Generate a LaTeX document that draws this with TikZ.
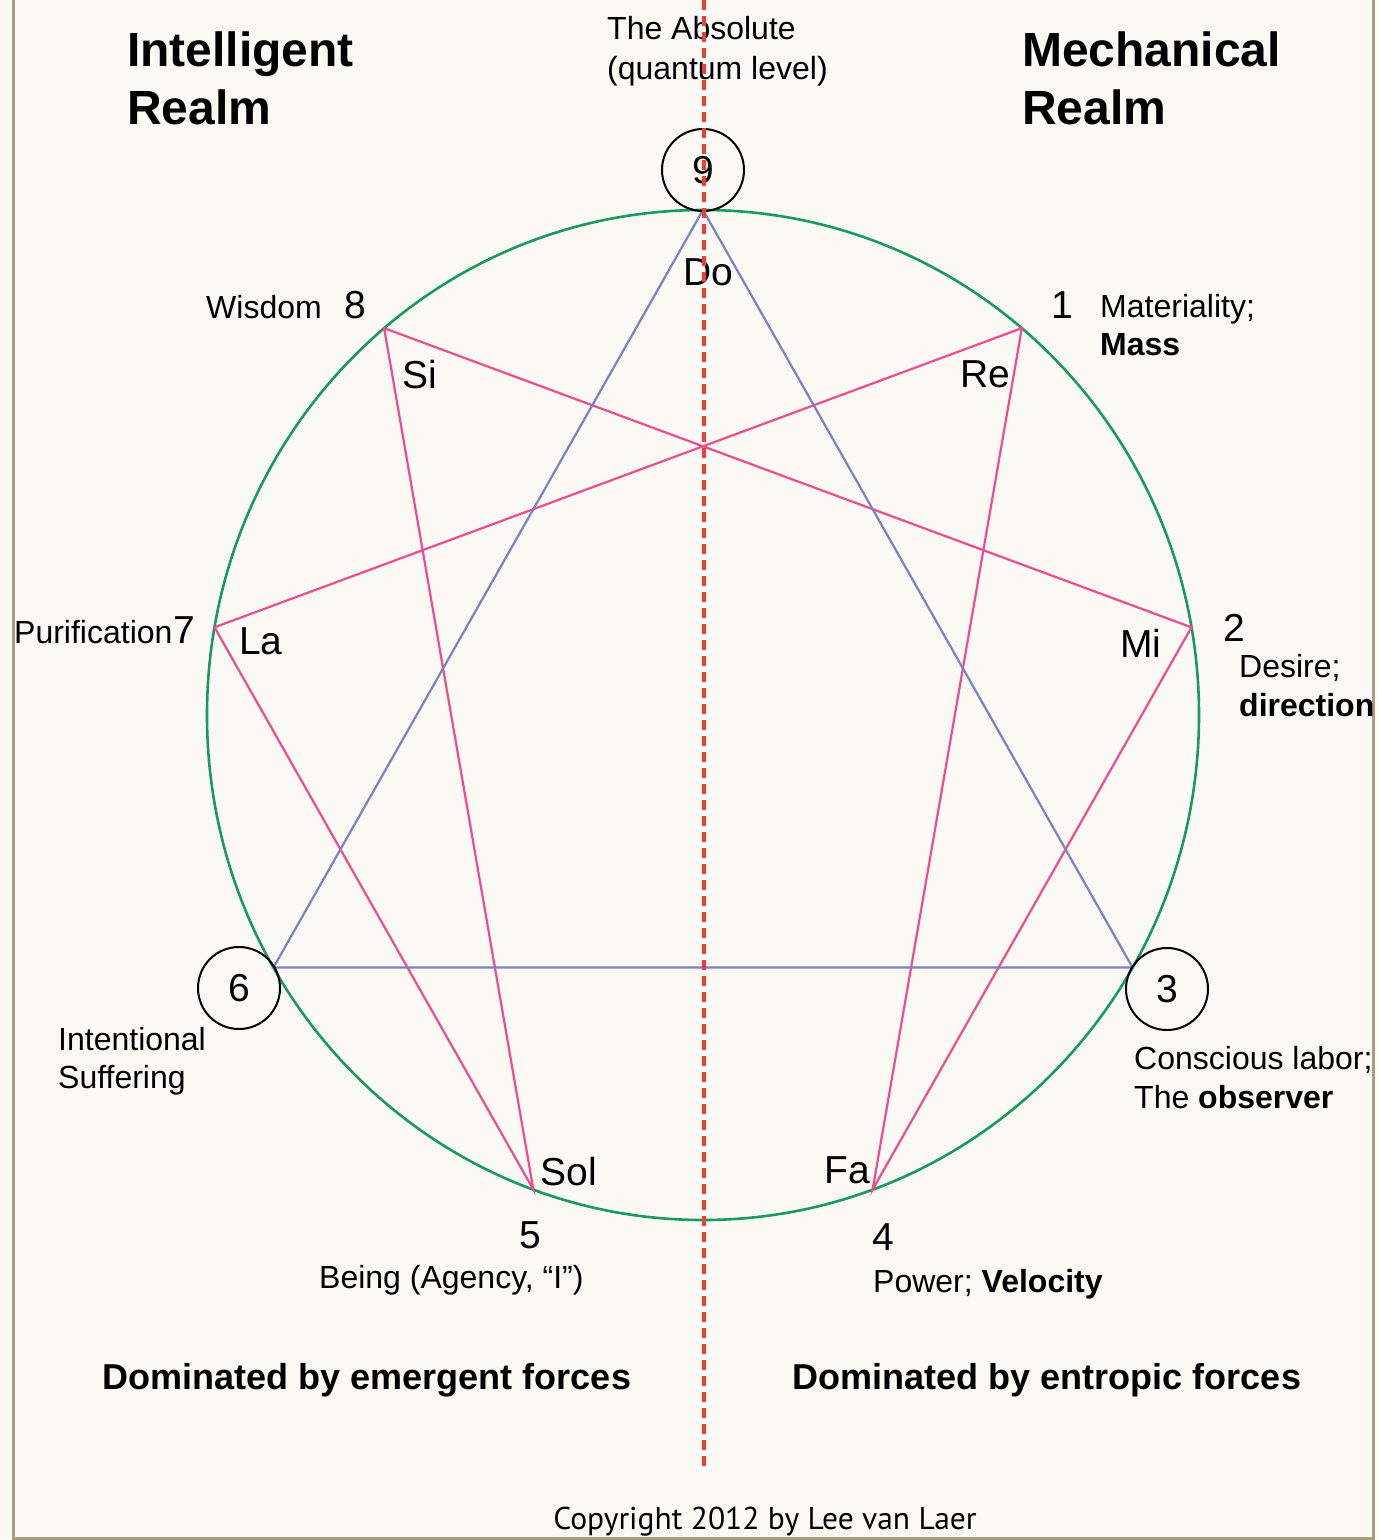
\documentclass[tikz,border=0pt]{standalone}
\usepackage{fontspec}
\setmainfont{Liberation Sans}
\newfontfamily\copyfont{PT Sans}
\definecolor{bgcream}{HTML}{FBF9F4}
\definecolor{ringgreen}{HTML}{1A9A5E}
\definecolor{triblue}{HTML}{7E80C6}
\definecolor{hexpink}{HTML}{EE4C8C}
\definecolor{axisred}{HTML}{EE3B3B}
\definecolor{framebrown}{HTML}{A89E86}
\begin{document}
\begin{tikzpicture}[x=1pt,y=-1pt,
  lbl/.style={inner sep=0pt,font=\fontsize{32}{38}\selectfont},
  lblw/.style={lbl,anchor=base west},
  note/.style={inner sep=0pt,font=\fontsize{39}{46}\selectfont,anchor=center},
  realm/.style={inner sep=0pt,anchor=base west,font=\fontsize{48}{58}\selectfont\bfseries},
  dom/.style={inner sep=0pt,anchor=center,font=\fontsize{36}{42}\selectfont\bfseries},
  numcirc/.style={circle,draw=black,line width=2pt,minimum size=82pt,inner sep=0pt,font=\fontsize{39}{46}\selectfont},
  ring/.style={draw=ringgreen,line width=2.6pt},
  triline/.style={draw=triblue,line width=2.2pt},
  hexline/.style={draw=hexpink,line width=2.2pt},
  axis/.style={draw=axisred,line width=4pt,dash pattern=on 10pt off 6pt}]
\fill[bgcream] (0,0) rectangle (1377,1540);
\useasboundingbox (0,0) rectangle (1377,1540);
% frame
\draw[framebrown,line width=3pt] (13,0) -- (13,1538) -- (1373,1538) -- (1373,0);
% points on enneagram circle
\coordinate (c) at (703,715);
\foreach \i in {0,...,8} {
  \coordinate (p\i) at ({703+496*sin(40*\i)},{715-505*cos(40*\i)});
}
% ring
\draw[ring] (c) ellipse [x radius=496, y radius=505];
% hexad
\draw[hexline] (p1) -- (p4) -- (p2) -- (p8) -- (p5) -- (p7) -- cycle;
% triangle
\draw[triline] (p0) -- (p3) -- (p6) -- cycle;
% circled numbers
\node[numcirc] (n9) at (703,170) {9};
\node[numcirc] (n3) at (1167,989) {3};
\node[numcirc] (n6) at (239,988) {6};
% realm titles
\node[realm] (ir1) at (127,66) {Intelligent};
\node[realm] (ir2) at (127,124) {Realm};
\node[realm] (mr1) at (1022,66) {Mechanical};
\node[realm] (mr2) at (1022,124) {Realm};
% absolute
\node[lblw] (ab1) at (607,39) {The Absolute};
\node[lblw] (ab2) at (607,79) {(quantum level)};
% solfege
\node[note] (do) at (708,272) {Do};
\node[note] (re) at (985,374) {Re};
\node[note] (mi) at (1141,643) {Mi};
\node[note] (fa) at (847,1170) {Fa};
\node[note] (sol) at (569,1172) {Sol};
\node[note] (la) at (261,641) {La};
\node[note] (si) at (420,375) {Si};
% numbers
\node[note] (n1) at (1062,305) {1};
\node[note] (n2) at (1234,628) {2};
\node[note] (n4) at (883,1237) {4};
\node[note] (n5) at (530,1235) {5};
\node[note] (n7) at (184,630) {7};
\node[note] (n8) at (355,305) {8};
% descriptions
\node[lblw] (d1a) at (1100,317) {Materiality;};
\node[lblw] (d1b) at (1100,355) {\bfseries Mass};
\node[lblw] (d2a) at (1239,677) {Desire;};
\node[lblw] (d2b) at (1239,716) {\bfseries direction};
\node[lblw] (d3a) at (1134,1069) {Conscious labor;};
\node[lblw] (d3b) at (1134,1108) {The \textbf{observer}};
\node[lblw] (d4) at (873,1292) {Power; \textbf{Velocity}};
\node[lblw] (d5) at (319,1288) {Being (Agency, “I”)};
\node[lblw] (d6a) at (58,1050) {Intentional};
\node[lblw] (d6b) at (58,1088) {Suffering};
\node[lblw] (d7) at (14,643) {Purification};
\node[lblw] (d8) at (206,318) {Wisdom};
% bottom
\node[dom] (em) at (367,1380) {Dominated by emergent forces};
\node[dom] (en) at (1047,1380) {Dominated by entropic forces};
\node[inner sep=0pt,anchor=center,font=\copyfont\fontsize{31.5}{37}\selectfont] (cp) at (765,1522) {Copyright 2012 by Lee van Laer};
% axis on top
\coordinate (axtop) at (704,0);
\coordinate (axbot) at (704,1466);
\draw[axis] (axtop) -- (axbot);
\end{tikzpicture}
\end{document}
